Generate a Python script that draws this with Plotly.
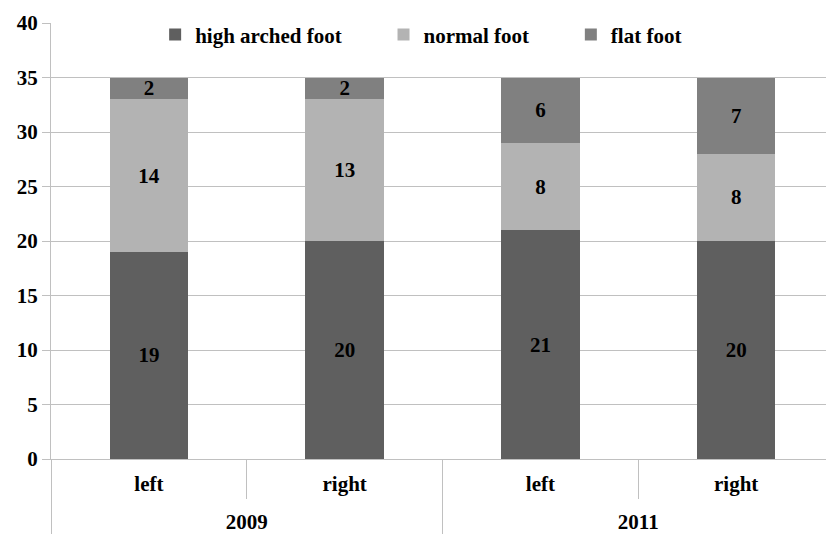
import plotly.graph_objects as go

years = ["2009", "2009", "2011", "2011"]
sides = ["left", "right", "left", "right"]
high_arched = [19, 20, 21, 20]
normal = [14, 13, 8, 8]
flat = [2, 2, 6, 7]

series = [
    ("high arched foot", high_arched, "#5f5f5f"),
    ("normal foot", normal, "#b3b3b3"),
    ("flat foot", flat, "#808080"),
]

FONT = "Liberation Serif"
GRID = "#c0c0c0"
SZ = 21
PAD = "\u00a0" * 7
SPACER = "<br><span style='font-size:1px'>\u00a0</span>"


def big(t):
    return "<span style='font-size:%dpx'>%s</span>" % (SZ, t)


fig = go.Figure()
for i, (name, vals, color) in enumerate(series):
    label = "<b>" + name + "</b>" + (PAD if i < len(series) - 1 else "")
    fig.add_trace(go.Bar(
        x=[[big(y) for y in years], [big(s) + SPACER for s in sides]], y=vals, name=label,
        marker=dict(color=color, line=dict(width=0)),
        text=["<b>%d</b>" % v for v in vals], textposition="inside",
        insidetextanchor="middle", textangle=0, constraintext="none",
        textfont=dict(family=FONT, size=SZ, color="black"),
    ))

fig.update_layout(
    barmode="stack", bargap=0.6,
    width=826, height=526,
    margin=dict(l=43, r=0, t=15, b=75),
    paper_bgcolor="white", plot_bgcolor="white",
    font=dict(family=FONT, size=SZ, color="black", weight="bold"),
    uniformtext=dict(mode=False),
    showlegend=True,
    legend=dict(orientation="h", x=0.133, xanchor="left", y=1.02, yanchor="top",
                font=dict(family=FONT, size=SZ, color="black"),
                bgcolor="rgba(0,0,0,0)", itemwidth=30, traceorder="normal"),
)
fig.update_yaxes(range=[0, 40], dtick=5, showgrid=True, gridcolor=GRID,
                 gridwidth=1, showline=True, linecolor=GRID,
                 ticks="outside", ticklen=8, tickcolor=GRID,
                 tickfont=dict(family=FONT, size=SZ, color="black", weight="bold"),
                 zeroline=False, automargin=False)
fig.update_xaxes(showline=True, linecolor=GRID, ticks="outside", ticklen=39,
                 tickcolor=GRID, showdividers=True, dividercolor=GRID,
                 dividerwidth=1, automargin=False, ticklabelstandoff=8,
                 tickfont=dict(family=FONT, size=19, color="black", weight="bold"))

fig.write_html("out.html")
